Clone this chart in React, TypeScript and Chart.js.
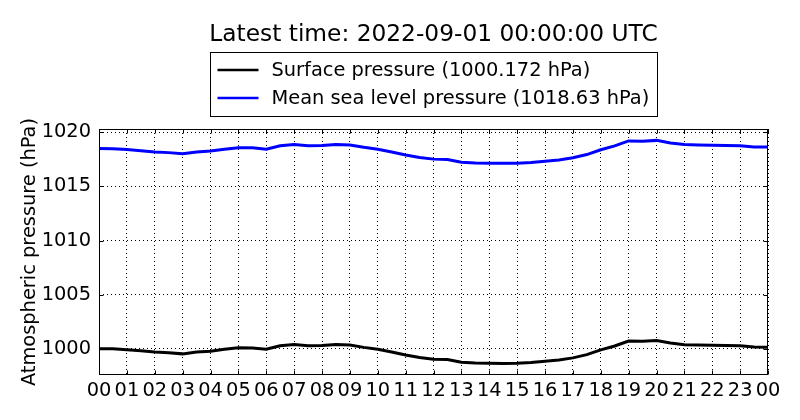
import React, { useEffect, useRef } from 'react';
import { Chart, registerables } from 'chart.js';

Chart.register(...registerables);

// hours since 00 UTC, one reading every 30 minutes
const times = [
  0, 0.5, 1, 1.5, 2, 2.5, 3, 3.5, 4, 4.5, 5, 5.5, 6, 6.5, 7, 7.5, 8, 8.5, 9, 9.5,
  10, 10.5, 11, 11.5, 12, 12.5, 13, 13.5, 14, 14.5, 15, 15.5, 16, 16.5, 17, 17.5,
  18, 18.5, 19, 19.5, 20, 20.5, 21, 21.5, 22, 22.5, 23, 23.5, 24,
];

const surfacePressure = [
  1000.03, 1000.02, 999.94, 999.84, 999.72, 999.66, 999.55, 999.72, 999.8, 999.98,
  1000.12, 1000.1, 999.98, 1000.3, 1000.42, 1000.3, 1000.32, 1000.42, 1000.36, 1000.15,
  999.97, 999.72, 999.44, 999.22, 999.06, 999.02, 998.78, 998.7, 998.69, 998.67,
  998.69, 998.75, 998.86, 998.98, 999.18, 999.48, 999.92, 1000.28, 1000.74, 1000.72,
  1000.79, 1000.55, 1000.4, 1000.36, 1000.34, 1000.32, 1000.3, 1000.18, 1000.17,
];

const seaLevelPressure = [
  1018.49, 1018.48, 1018.4, 1018.3, 1018.18, 1018.12, 1018.01, 1018.18, 1018.26, 1018.44,
  1018.58, 1018.56, 1018.44, 1018.76, 1018.88, 1018.76, 1018.77, 1018.88, 1018.82, 1018.61,
  1018.43, 1018.18, 1017.9, 1017.68, 1017.52, 1017.48, 1017.24, 1017.16, 1017.15, 1017.13,
  1017.15, 1017.21, 1017.32, 1017.44, 1017.64, 1017.94, 1018.38, 1018.74, 1019.2, 1019.18,
  1019.25, 1019.01, 1018.86, 1018.82, 1018.8, 1018.78, 1018.76, 1018.64, 1018.63,
];

const hourTicks = [0, 1, 2, 3, 4, 5, 6, 7, 8, 9, 10, 11, 12, 13, 14, 15, 16, 17, 18, 19, 20, 21, 22, 23, 24];
const hourLabels = [
  '00', '01', '02', '03', '04', '05', '06', '07', '08', '09', '10', '11',
  '12', '13', '14', '15', '16', '17', '18', '19', '20', '21', '22', '23', '00',
];
const pressureTicks = [1000, 1005, 1010, 1015, 1020];

const titleText = 'Latest time: 2022-09-01 00:00:00 UTC';
const surfaceLabel = 'Surface pressure (1000.172 hPa)';
const seaLevelLabel = 'Mean sea level pressure (1018.63 hPa)';

const FONT = '"DejaVu Sans", sans-serif';

// frame, inward ticks, title and boxed legend (matplotlib look)
const decorPlugin = {
  id: 'decor',
  afterDatasetsDraw(chart: any) {
    const { ctx, chartArea: a, scales } = chart;
    const L = Math.round(a.left) + 0.5;
    const R = Math.round(a.right) - 0.5;
    const T = Math.round(a.top) + 0.5;
    const B = Math.round(a.bottom) - 0.5;
    ctx.save();
    ctx.setLineDash([]);
    ctx.strokeStyle = '#000';
    ctx.lineWidth = 1;
    ctx.beginPath();
    hourTicks.forEach((v) => {
      const px = Math.round(scales.x.getPixelForValue(v)) + 0.5;
      ctx.moveTo(px, B);
      ctx.lineTo(px, B - 4);
      ctx.moveTo(px, T);
      ctx.lineTo(px, T + 4);
    });
    pressureTicks.forEach((v) => {
      const py = Math.round(scales.y.getPixelForValue(v)) + 0.5;
      ctx.moveTo(L, py);
      ctx.lineTo(L + 4, py);
      ctx.moveTo(R, py);
      ctx.lineTo(R - 4, py);
    });
    ctx.stroke();
    ctx.strokeRect(L, T, R - L, B - T);
    ctx.restore();
  },
  afterDraw(chart: any) {
    const { ctx, chartArea: a } = chart;
    const cx = (a.left + a.right) / 2;
    ctx.save();
    ctx.fillStyle = '#000';
    ctx.textAlign = 'center';
    ctx.textBaseline = 'middle';
    ctx.font = `23.3px ${FONT}`;
    ctx.fillText(titleText, cx, 35);

    const items = chart.data.datasets.map((d: any) => ({ label: d.label, color: d.borderColor }));
    ctx.font = `19.4px ${FONT}`;
    const textW = Math.max(...items.map((it: any) => ctx.measureText(it.label).width));
    const boxW = Math.round(61 + textW + 8);
    const left = Math.round(cx - boxW / 2) + 0.5;
    ctx.fillStyle = '#fff';
    ctx.fillRect(left, 52.5, boxW, 64);
    ctx.strokeStyle = '#000';
    ctx.lineWidth = 1;
    ctx.strokeRect(left, 52.5, boxW, 64);
    ctx.textAlign = 'left';
    items.forEach((it: any, i: number) => {
      const y = 70 + i * 28;
      ctx.strokeStyle = it.color;
      ctx.lineWidth = 2.5;
      ctx.beginPath();
      ctx.moveTo(left + 7, y);
      ctx.lineTo(left + 48, y);
      ctx.stroke();
      ctx.fillStyle = '#000';
      ctx.fillText(it.label, left + 61, y + 1);
    });
    ctx.restore();
  },
};

const PressureChart: React.FC = () => {
  const canvasRef = useRef<HTMLCanvasElement | null>(null);
  const chartRef = useRef<Chart | null>(null);

  useEffect(() => {
    if (!canvasRef.current) return;
    if (chartRef.current) chartRef.current.destroy();

    const tickFont = { family: FONT, size: 19.4 };

    chartRef.current = new Chart(canvasRef.current, {
      type: 'line',
      data: {
        datasets: [
          {
            label: surfaceLabel,
            data: times.map((t, i) => ({ x: t, y: surfacePressure[i] })),
            borderColor: '#000000',
            borderWidth: 3,
            pointRadius: 0,
            tension: 0,
          },
          {
            label: seaLevelLabel,
            data: times.map((t, i) => ({ x: t, y: seaLevelPressure[i] })),
            borderColor: '#0000ff',
            borderWidth: 3,
            pointRadius: 0,
            tension: 0,
          },
        ],
      },
      options: {
        animation: false,
        responsive: false,
        layout: { padding: { top: 129, right: 32, bottom: 0, left: 0 } },
        plugins: {
          legend: { display: false },
          title: { display: false },
          tooltip: { enabled: false },
        },
        scales: {
          x: {
            type: 'linear',
            min: 0,
            max: 24,
            afterBuildTicks: (scale: any) => {
              scale.ticks = hourTicks.map((v) => ({ value: v }));
            },
            afterFit: (scale: any) => {
              scale.height = 45;
            },
            grid: { color: '#000', lineWidth: 1, drawTicks: false },
            border: { display: false, dash: [1, 3] },
            ticks: {
              autoSkip: false,
              maxRotation: 0,
              minRotation: 0,
              padding: 4,
              color: '#000',
              font: tickFont,
              callback: (_v: any, i: number) => hourLabels[i],
            },
          },
          y: {
            type: 'linear',
            min: 997.6,
            max: 1020.3,
            afterBuildTicks: (scale: any) => {
              scale.ticks = pressureTicks.map((v) => ({ value: v }));
            },
            afterFit: (scale: any) => {
              scale.width = 99;
            },
            grid: { color: '#000', lineWidth: 1, drawTicks: false },
            border: { display: false, dash: [1, 3] },
            ticks: {
              padding: 8,
              color: '#000',
              font: tickFont,
              callback: (v: any) => String(v),
            },
            title: {
              display: true,
              text: 'Atmospheric pressure (hPa)',
              color: '#000',
              font: { family: FONT, size: 19.4 },
              padding: { top: 18, bottom: 0 },
            },
          },
        },
      },
      plugins: [decorPlugin],
    } as any);

    return () => {
      if (chartRef.current) {
        chartRef.current.destroy();
        chartRef.current = null;
      }
    };
  }, []);

  return (
    <div style={{ position: 'fixed', left: 0, top: 0, width: 800, height: 420, background: '#fff' }}>
      <canvas ref={canvasRef} width={800} height={420}></canvas>
    </div>
  );
};

export default function App() {
  return <PressureChart />;
}
